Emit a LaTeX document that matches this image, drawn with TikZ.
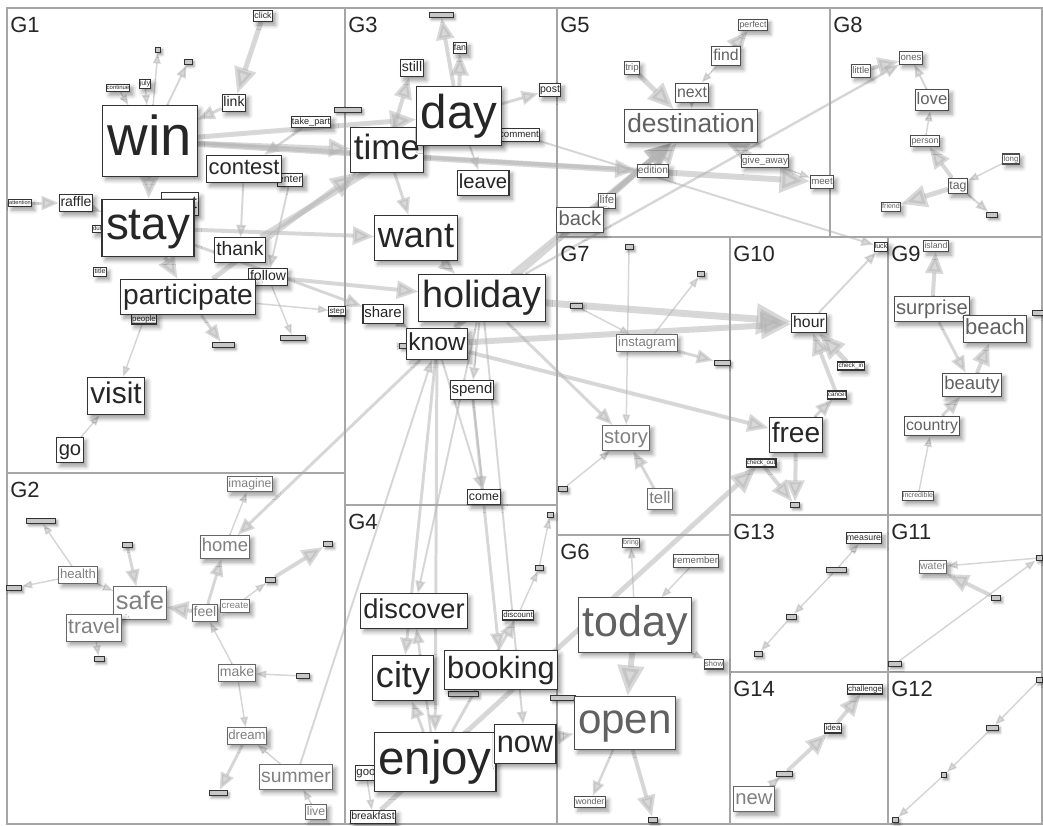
\documentclass[tikz,border=0pt]{standalone}
\usepackage{fontspec}
\setmainfont{Liberation Sans}
\usetikzlibrary{arrows.meta}
\usetikzlibrary{shadows.blur}

\pgfdeclarelayer{back}
\pgfsetlayers{back,main}

\tikzset{
  word/.style={fill=white, line width=0.6pt,
    font=\fontsize{#1pt}{#1pt}\selectfont,
    text height=0.74*#1pt, text depth=0.22*#1pt,
    inner xsep=0.09*#1pt, inner ysep=0.15*#1pt,
    blur shadow={shadow xshift=1.8pt, shadow yshift=-2pt, shadow blur radius=2.4pt, shadow blur steps=5}},
  dk/.style={text=black!85, draw=black!80},
  md/.style={text=black!62, draw=black!70},
  lt/.style={text=black!50, draw=black!60},
  tb/.style={draw=black!80, fill=black!22, line width=0.5pt, inner sep=0pt,
    minimum width=0.567pt*#1, minimum height=3.2pt,
    blur shadow={shadow xshift=1.2pt, shadow yshift=-1.2pt, shadow blur radius=1.4pt, shadow blur steps=3}},
  ed/.style={draw=black!30, fill=black!30, opacity=0.5, line width=0.567pt*#1,
    -{Triangle[length=2pt 4.5, width=1pt 4]}},
  ed/.default=1.5,
  panel/.style={draw=black!35, line width=0.7pt},
  glab/.style={anchor=base west, inner sep=0pt, text=black!85,
    font=\fontsize{12.5pt}{12.5pt}\selectfont},
}

\begin{document}
\begin{tikzpicture}[x=0.02cm, y=-0.02cm]
    \useasboundingbox (0,0) rectangle (1043,825);

    % panels
    \draw[panel] (7,8) rectangle (1042,824);
    \draw[panel] (345,8) -- (345,824);
    \draw[panel] (7,473) -- (345,473);
    \draw[panel] (557,8) -- (557,824);
    \draw[panel] (345,505) -- (557,505);
    \draw[panel] (557,237) -- (1042,237);
    \draw[panel] (830,8) -- (830,237);
    \draw[panel] (557,535) -- (730,535);
    \draw[panel] (730,237) -- (730,824);
    \draw[panel] (888,237) -- (888,824);
    \draw[panel] (730,515) -- (1042,515);
    \draw[panel] (730,672) -- (1042,672);

    \node[glab] (lG1) at (10,32) {G1};
    \node[glab] (lG2) at (10,497) {G2};
    \node[glab] (lG3) at (348,32) {G3};
    \node[glab] (lG4) at (348,529) {G4};
    \node[glab] (lG5) at (560,32) {G5};
    \node[glab] (lG6) at (560,559) {G6};
    \node[glab] (lG7) at (560,261) {G7};
    \node[glab] (lG8) at (833,32) {G8};
    \node[glab] (lG9) at (891,261) {G9};
    \node[glab] (lG10) at (733,261) {G10};
    \node[glab] (lG11) at (891,539) {G11};
    \node[glab] (lG12) at (891,696) {G12};
    \node[glab] (lG13) at (733,539) {G13};
    \node[glab] (lG14) at (733,696) {G14};

    % G1
    \node[word=5, dk] (click) at (263,16) {click};
    \node[tb=5] (t1a) at (158,50) {};
    \node[tb=8] (t1b) at (188,62) {};
    \node[word=3.4, dk] (continue) at (118,88) {continue};
    \node[word=4, dk] (july) at (145,84) {july};
    \node[word=8, dk] (link) at (234,103) {link};
    \node[word=5.2, dk] (takepart) at (311,122) {take\_part};
    \node[word=3.2, dk] (attention) at (20,203) {attention};
    \node[word=8, dk] (raffle) at (76,203) {raffle};
    \node[word=10, dk, text width=0.567pt*34, align=right] (tword) at (180,204) {t};
    \node[word=3.5, dk] (duti) at (98,229) {duti};
    \node[word=32, dk] (win) at (150,141) {win};
    \node[word=6, dk] (enter) at (290,180) {enter};
    \node[word=12.5, dk] (contest) at (244,169) {contest};
    \node[word=26, dk] (stay) at (148,228) {stay};
    \node[word=11, dk] (thank) at (240,250) {thank};
    \node[word=4, dk] (title) at (100,272) {title};
    \node[word=4.5, dk] (people) at (144,319) {people};
    \node[word=8, dk] (follow) at (268,277) {follow};
    \node[word=16, dk] (participate) at (188,297) {participate};
    \node[word=4.5, dk] (step) at (337,311) {step};
    \node[tb=22] (t1c) at (223,345) {};
    \node[tb=25] (t1d) at (293,338) {};
    \node[word=17, dk] (visit) at (116,396) {visit};
    \node[word=11.5, dk] (go) at (70,450) {go};

    % G3
    \node[tb=24] (t3a) at (441,15) {};
    \node[word=5, dk] (fan) at (460,48) {fan};
    \node[word=8, dk] (still) at (412,68) {still};
    \node[word=6, dk] (post) at (550,90) {post};
    \node[tb=27] (t3b) at (348,110) {};
    \node[word=5.5, dk] (comment) at (519,135) {comment};
    \node[word=20, dk] (time) at (387,150) {time};
    \node[word=27, dk] (day) at (459,116) {day};
    \node[word=11.5, dk] (leave) at (483,183) {leave};
    \node[tb=6] (t3c) at (380,246) {};
    \node[word=20.5, dk] (want) at (416,238) {want};
    \node[word=21.5, dk] (holiday) at (482,298) {holiday};
    \node[word=8.5, dk] (share) at (383,314) {share};
    \node[tb=7] (t3d) at (403,346) {};
    \node[word=14, dk] (know) at (437,344) {know};
    \node[word=8.5, dk] (spend) at (472,390) {spend};
    \node[word=7, dk] (come) at (484,497) {come};

    % G5
    \node[word=5, md] (perfect) at (753,25) {perfect};
    \node[word=9, md] (find) at (726,56) {find};
    \node[word=5.5, md] (trip) at (632,68) {trip};
    \node[word=9, md] (next) at (692,93) {next};
    \node[word=15, md] (destination) at (691,126) {destination};
    \node[word=5.8, md] (edition) at (653,171) {edition};
    \node[word=5.5, md] (giveaway) at (765,161) {give\_away};
    \node[word=5.5, md] (meet) at (822,182) {meet};
    \node[word=6.5, md] (life) at (607,201) {life};
    \node[word=11.5, md] (back) at (580,220) {back};

    % G8
    \node[word=5.5, md] (ones) at (911,58) {ones};
    \node[word=5.5, md] (little) at (861,71) {little};
    \node[word=9.5, md] (love) at (932,100) {love};
    \node[word=5, md] (person) at (925,141) {person};
    \node[word=4.5, md] (long) at (1011,159) {long};
    \node[word=7, md] (tag) at (958,186) {tag};
    \node[word=4, md] (friend) at (891,207) {friend};
    \node[tb=11] (t8a) at (992,215) {};

    % G7
    \node[tb=8] (t7a) at (629,247) {};
    \node[tb=7] (t7b) at (701,274) {};
    \node[tb=12] (t7e) at (576,306) {};
    \node[word=7.5, lt] (instagram) at (647,343) {instagram};
    \node[tb=16] (t7c) at (722,363) {};
    \node[word=11.5, lt] (story) at (626,438) {story};
    \node[word=9.5, lt] (tell) at (660,499) {tell};
    \node[tb=9] (t7d) at (563,489) {};

    % G10
    \node[word=4, dk] (luck) at (881,247) {luck};
    \node[word=9, dk] (hour) at (809,323) {hour};
    \node[word=3.6, dk] (checkin) at (851,366) {check\_in};
    \node[word=3.6, dk] (cancel) at (837,395) {cancel};
    \node[word=16, dk] (free) at (796,435) {free};
    \node[word=3.6, dk] (checkout) at (761,463) {check\_out};
    \node[tb=9] (t10a) at (795,505) {};

    % G9
    \node[word=5, md] (island) at (936,246) {island};
    \node[word=11.5, md] (surprise) at (932,309) {surprise};
    \node[word=12.5, md] (beach) at (995,329) {beach};
    \node[tb=11] (t9a) at (1038,313) {};
    \node[word=10.5, md] (beauty) at (972,385) {beauty};
    \node[word=9, md] (country) at (932,426) {country};
    \node[word=4, md] (incredible) at (918,496) {incredible};

    % G2
    \node[word=7, lt] (imagine) at (250,484) {imagine};
    \node[tb=29] (t2a) at (41,521) {};
    \node[tb=10] (t2b) at (127,545) {};
    \node[word=10.5, lt] (home) at (225,547) {home};
    \node[tb=9] (t2c) at (328,544) {};
    \node[word=7.5, lt] (health) at (78,575) {health};
    \node[tb=15] (t2d) at (14,588) {};
    \node[word=14.5, lt] (safe) at (140,603) {safe};
    \node[tb=10] (t2e) at (270,580) {};
    \node[word=8, lt] (feel) at (205,613) {feel};
    \node[word=5.5, lt] (create) at (235,606) {create};
    \node[word=12, lt] (travel) at (94,628) {travel};
    \node[tb=10] (t2f) at (99,659) {};
    \node[word=8, lt] (make) at (237,673) {make};
    \node[tb=13] (t2g) at (303,676) {};
    \node[word=7.5, lt] (dream) at (247,736) {dream};
    \node[tb=18] (t2h) at (218,793) {};
    \node[word=11, lt] (summer) at (296,777) {summer};
    \node[word=7, lt] (live) at (316,812) {live};

    % G4
    \node[tb=6] (t4a) at (550,515) {};
    \node[tb=8] (t4b) at (539,568) {};
    \node[word=4.5, dk] (discount) at (518,615) {discount};
    \node[word=15.5, dk] (discover) at (414,611) {discover};
    \node[tb=30] (t4c) at (463,694) {};
    \node[word=20.5, dk] (city) at (403,678) {city};
    \node[word=17.5, dk] (booking) at (501,670) {booking};
    \node[tb=25] (t4d) at (563,698) {};
    \node[word=6.5, dk] (good) at (366,773) {goo};
    \node[word=27, dk] (enjoy) at (435,762) {enjoy};
    \node[word=17.5, dk] (now) at (525,744) {now};
    \node[word=6, dk] (breakfast) at (373,817) {breakfast};

    % G6
    \node[word=4, md] (bring) at (631,543) {bring};
    \node[word=5.5, md] (remember) at (696,561) {remember};
    \node[word=24.5, md] (today) at (635,625) {today};
    \node[word=4.5, md] (show) at (714,664) {show};
    \node[word=24, md] (open) at (625,723) {open};
    \node[word=5, md] (wonder) at (590,802) {wonder};
    \node[tb=9] (t6a) at (653,820) {};

    % G13, G11, G14, G12
    \node[word=5, dk] (measure) at (864,538) {measure};
    \node[tb=20] (t13a) at (836,570) {};
    \node[tb=10] (t13b) at (791,617) {};
    \node[tb=8] (t13c) at (758,654) {};
    \node[word=6, lt] (water) at (933,567) {water};
    \node[tb=6] (t11a) at (1039,558) {};
    \node[tb=9] (t11b) at (996,598) {};
    \node[tb=13] (t11c) at (895,664) {};
    \node[word=4.5, dk] (challenge) at (865,689) {challenge};
    \node[word=4.5, dk] (idea) at (833,728) {idea};
    \node[tb=16] (t14a) at (784,774) {};
    \node[word=11.5, lt] (new) at (754,799) {new};
    \node[tb=6] (t12a) at (1039,680) {};
    \node[tb=12] (t12b) at (992,728) {};
    \node[tb=5] (t12c) at (944,775) {};
    \node[tb=6] (t12d) at (895,820) {};

    \begin{pgfonlayer}{back}
    % G1 links
    \draw[ed=5] (click) -- (link);
    \draw[ed] (win) -- (t1a);
    \draw[ed=2] (win) -- (t1b);
    \draw[ed] (continue) -- (win);
    \draw[ed] (july) -- (win);
    \draw[ed=3] (link) -- (win);
    \draw[ed=2.5] (takepart) -- (contest);
    \draw[ed=3] (attention) -- (raffle);
    \draw[ed=2] (raffle) -- (stay);
    \draw[ed=4] (win) -- (stay);
    \draw[ed=5] (win) -- (day);
    \draw[ed=4] (win) -- (time);
    \draw[ed=6] (win) -- (meet);
    \draw[ed=4] (win) -- (edition);
    \draw[ed=2] (contest) -- (thank);
    \draw[ed=4] (stay) -- (participate);
    \draw[ed] (people) -- (visit);
    \draw[ed] (go) -- (visit);
    \draw[ed] (participate) -- (step);
    \draw[ed] (follow) -- (t1d);
    \draw[ed=3] (participate) -- (t1c);
    \draw[ed=6] (thank) -- (day);
    \draw[ed=5] (participate) -- (time);
    \draw[ed=4] (follow) -- (holiday);
    \draw[ed=4] (stay) -- (want);
    \draw[ed=3] (stay) -- (share);
    \draw[ed=2] (enter) -- (follow);

    % G3 links
    \draw[ed=4] (day) -- (t3a);
    \draw[ed=4] (day) -- (fan);
    \draw[ed=4] (time) -- (still);
    \draw[ed=3] (day) -- (post);
    \draw[ed] (day) -- (comment);
    \draw[ed=2] (day) -- (leave);
    \draw[ed=3] (time) -- (want);
    \draw[ed=3] (want) -- (holiday);
    \draw[ed=5] (holiday) -- (know);
    \draw[ed=2] (share) -- (know);
    \draw[ed] (know) -- (t3d);
    \draw[ed=2] (spend) -- (come);
    \draw[ed=2] (holiday) -- (spend);
    \draw[ed=2] (know) -- (come);
    \draw[ed=7] (holiday) -- (hour);
    \draw[ed=6] (know) -- (hour);
    \draw[ed=4] (know) -- (free);
    \draw[ed=3] (holiday) -- (story);
    \draw[ed=5] (know) -- (destination);
    \draw[ed=4] (holiday) -- (destination);
    \draw[ed=2.5] (holiday) -- (ones);
    \draw[ed=2] (day) -- (luck);
    \draw[ed=3] (know) -- (home);
    \draw[ed=2] (summer) -- (know);
    \draw[ed=3] (know) -- (city);
    \draw[ed=3] (know) -- (enjoy);
    \draw[ed=2] (holiday) -- (now);
    \draw[ed=3] (spend) -- (booking);
    \draw[ed=2] (holiday) -- (discover);

    % G4 links
    \draw[ed] (t4b) -- (t4a);
    \draw[ed] (discount) -- (t4b);
    \draw[ed=3] (enjoy) -- (discount);
    \draw[ed=3] (enjoy) -- (city);
    \draw[ed=2.5] (enjoy) -- (discover);
    \draw[ed=3] (now) -- (open);
    \draw[ed] (good) -- (breakfast);
    \draw[ed=5] (breakfast) -- (checkout);

    % G5 links
    \draw[ed=4] (find) -- (perfect);
    \draw[ed] (find) -- (next);
    \draw[ed=5] (trip) -- (destination);
    \draw[ed=2] (next) -- (destination);
    \draw[ed=4] (edition) -- (destination);
    \draw[ed=4] (giveaway) -- (destination);
    \draw[ed] (giveaway) -- (meet);
    \draw[ed=3] (life) -- (destination);
    \draw[ed=5] (back) -- (destination);

    % G8 links
    \draw[ed=4] (little) -- (ones);
    \draw[ed=2] (love) -- (ones);
    \draw[ed] (person) -- (love);
    \draw[ed=4] (tag) -- (person);
    \draw[ed=5] (tag) -- (friend);
    \draw[ed] (long) -- (tag);
    \draw[ed=2] (tag) -- (t8a);

    % G7 links
    \draw[ed] (t7a) -- (story);
    \draw[ed] (instagram) -- (t7b);
    \draw[ed] (t7d) -- (story);
    \draw[ed=3] (tell) -- (story);
    \draw[ed=3] (instagram) -- (t7c);
    \draw[ed] (t7e) -- (instagram);

    % G10 links
    \draw[ed=2] (hour) -- (luck);
    \draw[ed=5] (checkin) -- (hour);
    \draw[ed=4] (cancel) -- (hour);
    \draw[ed=3] (free) -- (cancel);
    \draw[ed=4] (free) -- (t10a);
    \draw[ed=4] (checkout) -- (t10a);

    % G9 links
    \draw[ed=4] (surprise) -- (island);
    \draw[ed=3] (surprise) -- (beauty);
    \draw[ed=4] (beauty) -- (beach);
    \draw[ed=3] (country) -- (beauty);
    \draw[ed] (incredible) -- (country);

    % G2 links
    \draw[ed] (health) -- (t2a);
    \draw[ed] (health) -- (t2d);
    \draw[ed] (health) -- (safe);
    \draw[ed=3] (t2b) -- (safe);
    \draw[ed=4] (feel) -- (safe);
    \draw[ed=3] (feel) -- (home);
    \draw[ed] (home) -- (imagine);
    \draw[ed] (make) -- (feel);
    \draw[ed] (t2g) -- (make);
    \draw[ed] (make) -- (dream);
    \draw[ed=3] (dream) -- (t2h);
    \draw[ed] (summer) -- (dream);
    \draw[ed] (live) -- (summer);
    \draw[ed] (travel) -- (t2f);
    \draw[ed] (create) -- (t2e);
    \draw[ed=4] (t2e) -- (t2c);

    % G6 links
    \draw[ed] (today) -- (bring);
    \draw[ed] (remember) -- (today);
    \draw[ed=6] (today) -- (open);
    \draw[ed] (today) -- (show);
    \draw[ed=2.5] (open) -- (wonder);
    \draw[ed=4] (open) -- (t6a);

    % G13 G11 G14 G12 links
    \draw[ed] (t13a) -- (measure);
    \draw[ed] (t13a) -- (t13b);
    \draw[ed] (t13b) -- (t13c);
    \draw[ed=4] (t11b) -- (water);
    \draw[ed] (t11a) -- (water);
    \draw[ed] (t11c) -- (t11a);
    \draw[ed=4] (t14a) -- (idea);
    \draw[ed=4] (idea) -- (challenge);
    \draw[ed=2] (new) -- (t14a);
    \draw[ed] (t12a) -- (t12b);
    \draw[ed] (t12b) -- (t12c);
    \draw[ed] (t12c) -- (t12d);
    \end{pgfonlayer}

\end{tikzpicture}
\end{document}
